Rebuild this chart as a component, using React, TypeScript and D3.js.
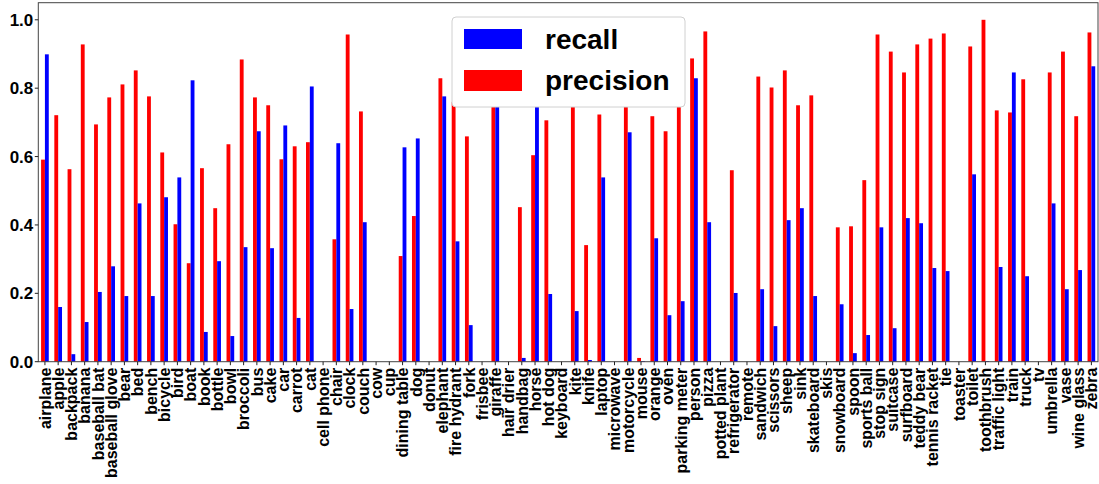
import React from 'react';
import * as d3 from 'd3';

const categories = [
  'airplane', 'apple', 'backpack', 'banana', 'baseball bat', 'baseball glove', 'bear', 'bed',
  'bench', 'bicycle', 'bird', 'boat', 'book', 'bottle', 'bowl', 'broccoli', 'bus', 'cake', 'car',
  'carrot', 'cat', 'cell phone', 'chair', 'clock', 'couch', 'cow', 'cup', 'dining table', 'dog',
  'donut', 'elephant', 'fire hydrant', 'fork', 'frisbee', 'giraffe', 'hair drier', 'handbag',
  'horse', 'hot dog', 'keyboard', 'kite', 'knife', 'laptop', 'microwave', 'motorcycle', 'mouse',
  'orange', 'oven', 'parking meter', 'person', 'pizza', 'potted plant', 'refrigerator', 'remote',
  'sandwich', 'scissors', 'sheep', 'sink', 'skateboard', 'skis', 'snowboard', 'spoon',
  'sports ball', 'stop sign', 'suitcase', 'surfboard', 'teddy bear', 'tennis racket', 'tie',
  'toaster', 'toilet', 'toothbrush', 'traffic light', 'train', 'truck', 'tv', 'umbrella', 'vase',
  'wine glass', 'zebra',
];

const recall = [
  0.899, 0.160, 0.022, 0.116, 0.204, 0.279, 0.192, 0.463,
  0.192, 0.481, 0.539, 0.823, 0.087, 0.294, 0.075, 0.335, 0.674, 0.332, 0.691,
  0.128, 0.805, 0, 0.639, 0.154, 0.408, 0, 0, 0.627, 0.653,
  0, 0.776, 0.352, 0.107, 0, 0.76, 0, 0.011,
  0.75, 0.198, 0, 0.148, 0.005, 0.539, 0, 0.671, 0.002,
  0.361, 0.136, 0.177, 0.829, 0.408, 0, 0.201, 0,
  0.212, 0.104, 0.414, 0.449, 0.192, 0, 0.168, 0.025,
  0.078, 0.393, 0.098, 0.420, 0.405, 0.274, 0.265,
  0, 0.548, 0.002, 0.277, 0.846, 0.250, 0, 0.463, 0.212,
  0.268, 0.864,
];

const precision = [
  0.591, 0.721, 0.563, 0.928, 0.694, 0.773, 0.811, 0.852,
  0.776, 0.612, 0.402, 0.288, 0.566, 0.449, 0.636, 0.884, 0.773, 0.750, 0.592,
  0.630, 0.642, 0, 0.358, 0.957, 0.732, 0, 0, 0.309, 0.426,
  0, 0.829, 0.76, 0.659, 0, 0.78, 0, 0.452,
  0.604, 0.706, 0, 0.75, 0.341, 0.723, 0, 0.76, 0.011,
  0.718, 0.674, 0.75, 0.887, 0.966, 0, 0.560, 0,
  0.834, 0.802, 0.852, 0.750, 0.779, 0, 0.393, 0.396,
  0.531, 0.957, 0.907, 0.846, 0.928, 0.945, 0.960,
  0, 0.922, 1.0, 0.735, 0.729, 0.826, 0, 0.846, 0.907,
  0.718, 0.963,
];

const yTicks = [0, 0.2, 0.4, 0.6, 0.8, 1.0];

const W = 1099;
const H = 484;
const left = 38.3;
const right = 1098;
const top = 2.7;
const bottom = 361.7;
const font = '"Liberation Sans", Arial, sans-serif';

export default function App() {
  const x = d3.scaleLinear().domain([-0.5, categories.length - 0.5]).range([left, right]);
  const y = d3.scaleLinear().domain([0, 1.05]).range([bottom, top]);
  const bw = x(0.29) - x(0);

  return (
    <svg width={W} height={H} style={{ position: 'absolute', left: 0, top: 0 }} fontFamily={font}>
      <rect x={0} y={0} width={W} height={H} fill="#fff" />
      {categories.map((c, i) => (
        <g key={c}>
          <rect x={x(i) - bw} y={y(precision[i])} width={bw} height={bottom - y(precision[i])} fill="#ff0000" />
          <rect x={x(i)} y={y(recall[i])} width={bw} height={bottom - y(recall[i])} fill="#0000ff" />
        </g>
      ))}
      <rect x={left} y={top} width={right - left} height={bottom - top} fill="none" stroke="#444" strokeWidth={1} />
      {yTicks.map(t => (
        <g key={t}>
          <line x1={left - 3.5} x2={left} y1={y(t)} y2={y(t)} stroke="#222" />
          <text x={left - 5} y={y(t)} dy="0.35em" textAnchor="end" fontSize={17} fontWeight="bold">
            {t.toFixed(1)}
          </text>
        </g>
      ))}
      {categories.map((c, i) => (
        <g key={'t' + c}>
          <line x1={x(i)} x2={x(i)} y1={bottom} y2={bottom + 3.5} stroke="#222" />
          <text
            transform={`translate(${x(i)},${bottom + 6}) rotate(-90)`}
            textAnchor="end"
            dy="0.36em"
            fontSize={16}
            fontWeight="bold"
          >
            {c}
          </text>
        </g>
      ))}
      <g>
        <rect x={452} y={17} width={233} height={90} rx={4} fill="#fff" stroke="#d0d0d0" />
        <rect x={464} y={29} width={58} height={20} fill="#0000ff" />
        <rect x={464} y={70} width={58} height={21} fill="#ff0000" />
        <text x={545} y={39} dy="0.35em" fontSize={28} fontWeight="bold">recall</text>
        <text x={545} y={80} dy="0.35em" fontSize={28} fontWeight="bold">precision</text>
      </g>
    </svg>
  );
}
